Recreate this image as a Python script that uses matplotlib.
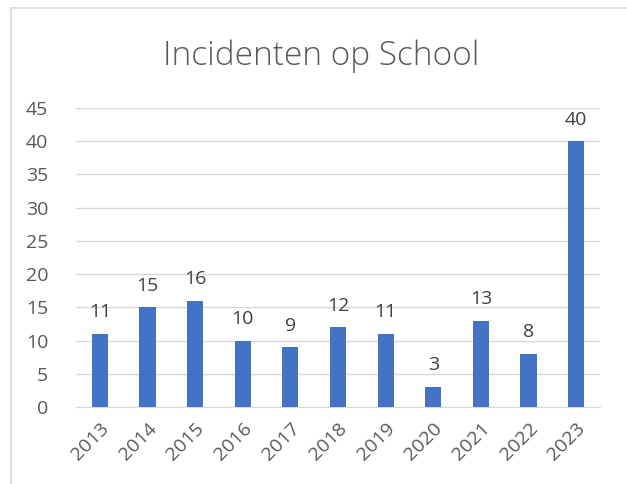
import matplotlib
matplotlib.use("Agg")
from matplotlib import pyplot as plt
from matplotlib.patches import Rectangle

years = ["2013", "2014", "2015", "2016", "2017", "2018", "2019", "2020", "2021", "2022", "2023"]
incidents = [11, 15, 16, 10, 9, 12, 11, 3, 13, 8, 40]
y_ticks = [0, 5, 10, 15, 20, 25, 30, 35, 40, 45]

plt.rcParams['font.family'] = ['Open Sans', 'DejaVu Sans']

fig = plt.figure(figsize=(6.27, 4.84), dpi=100)
W, H = 627, 484
ax = fig.add_axes([76 / W, 1 - 407 / H, (600 - 76) / W, (407 - 108) / H])

# chart border (Excel chart area)
fig.patches.append(Rectangle((11 / W, -0.1), 1.2, 1 - 8 / H + 0.1, transform=fig.transFigure,
                             fill=False, edgecolor="#d9d9d9", linewidth=1.2))

x = range(len(years))
bars = ax.bar(x, incidents, width=0.34, color="#4472c4", zorder=3)
for xi, v in zip(x, incidents):
    ax.text(xi, v + 1.9, str(v), ha="center", va="bottom", fontsize=14, color="#404040")

ax.set_ylim(0, 45)
ax.set_xlim(-0.5, len(years) - 0.5)
ax.set_yticks(y_ticks)
ax.set_yticklabels([str(t) for t in y_ticks], fontsize=14, color="#595959")
ax.set_xticks(list(x))
ax.set_xticklabels(years, rotation=45, ha="right", rotation_mode="anchor", fontsize=14, color="#595959")
ax.tick_params(axis="both", length=0)
ax.tick_params(axis="y", pad=20)
ax.tick_params(axis="x", pad=9)
ax.grid(axis="y", color="#d9d9d9", linewidth=1, zorder=0)
for s in ["top", "right", "left"]:
    ax.spines[s].set_visible(False)
ax.spines["bottom"].set_color("#d9d9d9")

fig.text(321 / W, 1 - 56 / H, "Incidenten op School", ha="center", va="center",
         fontsize=24, fontweight="light", color="#595959")

fig.savefig("out.png", dpi=100)
